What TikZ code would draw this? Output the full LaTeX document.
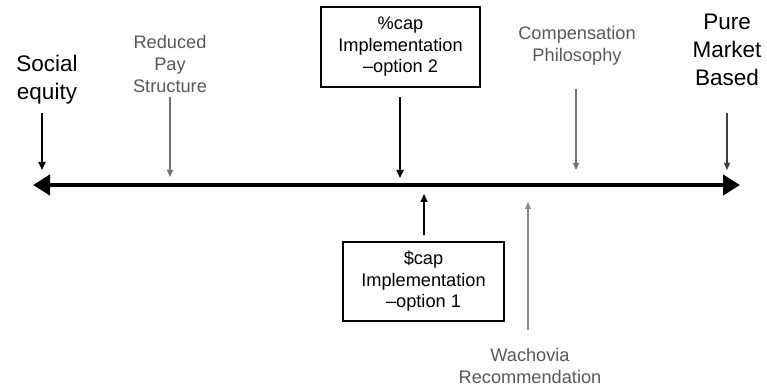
\documentclass[tikz,border=0pt]{standalone}
\usepackage{fontspec}
\setmainfont{Liberation Sans}
\usetikzlibrary{arrows.meta}
\begin{document}
\begin{tikzpicture}[x=1pt,y=-1pt,
  big/.style={font=\fontsize{22.5}{28}\selectfont, align=center, text=black, inner sep=0pt},
  small/.style={font=\fontsize{18.2}{22}\selectfont, align=center, text=black!65, inner sep=0pt},
  boxed/.style={draw=black, line width=1.2pt, font=\fontsize{18.2}{21.5}\selectfont, align=center, inner sep=0pt},
  blackarr/.style={line width=1.6pt, draw=black, -{Triangle[width=7pt,length=8pt]}},
  grayarr/.style={line width=1.1pt, draw=black!55, -{Triangle[width=6pt,length=7pt]}},
  axis/.style={line width=4.5pt, draw=black, {Triangle[width=20pt,length=17pt]}-{Triangle[width=20pt,length=17pt]}}
]
\useasboundingbox[fill=white] (0,0) rectangle (767,387);

% axis ends
\coordinate (L) at (33,185);
\coordinate (R) at (740,185);
\draw[axis] (L) -- (R);

% Social equity
\node[big] (social) at (47,80) {Social\\equity};
\coordinate (socS) at (42,113);
\coordinate (socE) at (42,170);
\draw[blackarr] (socS) -- (socE);

% Reduced Pay Structure
\node[small] (reduced) at (170,64) {Reduced\\Pay\\Structure};
\coordinate (redS) at (170,97);
\coordinate (redE) at (170,177);
\draw[grayarr] (redS) -- (redE);

% %cap box
\node[boxed, minimum width=159pt, minimum height=80pt] (pcap) at (400.5,47) {\%cap\\Implementation\\--option 2};
\coordinate (pcapS) at (400,97);
\coordinate (pcapE) at (400,178);
\draw[blackarr] (pcapS) -- (pcapE);

% $cap box
\node[boxed, minimum width=161pt, minimum height=79pt] (dcap) at (423.5,281.5) {\$cap\\Implementation\\--option 1};
\coordinate (dcapS) at (424,235);
\coordinate (dcapE) at (424,194);
\draw[blackarr] (dcapS) -- (dcapE);

% Compensation Philosophy
\node[small] (comp) at (577,46) {Compensation\\Philosophy};
\coordinate (compS) at (576,89);
\coordinate (compE) at (576,170);
\draw[grayarr] (compS) -- (compE);

% Pure Market Based
\node[big] (pure) at (727,50) {Pure\\Market\\Based};
\coordinate (pureS) at (727,113);
\coordinate (pureE) at (727,170);
\draw[grayarr, draw=black!75, line width=1.4pt] (pureS) -- (pureE);

% Wachovia
\node[small] (wach) at (530,366) {Wachovia\\Recommendation};
\coordinate (wachS) at (528,330);
\coordinate (wachE) at (528,202);
\draw[grayarr, draw=black!45] (wachS) -- (wachE);
\end{tikzpicture}
\end{document}
